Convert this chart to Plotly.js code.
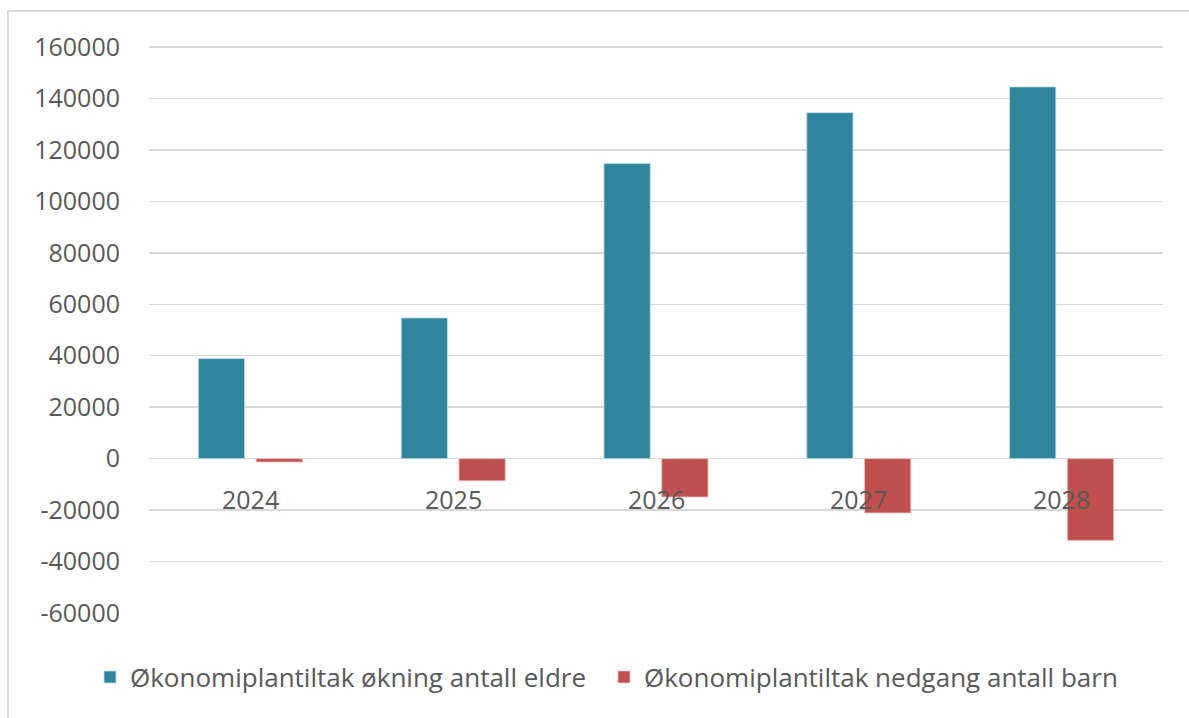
<!DOCTYPE html>
<html>
<head>
<meta charset="utf-8">
<script src="https://cdn.plot.ly/plotly-3.0.1.min.js"></script>
<style>
  html, body { margin: 0; padding: 0; background: #ffffff; overflow: hidden; }
  #frame { position: absolute; left: 7px; top: 10px; width: 1300px; height: 800px;
           border-left: 2px solid #d9d9d9; border-top: 2px solid #d9d9d9; }
  #chart { position: absolute; left: 0; top: 0; width: 1189px; height: 718px; }
</style>
</head>
<body>
<div id="frame"></div>
<div id="chart"></div>
<script>
const years = ["2024", "2025", "2026", "2027", "2028"];
const eldreValues = [38900, 54700, 114700, 134500, 144500];
const barnValues = [-1300, -8600, -14900, -21100, -31800];
const seriesNames = ["Økonomiplantiltak økning antall eldre", "Økonomiplantiltak nedgang antall barn"];
const yTicks = [-60000, -40000, -20000, 0, 20000, 40000, 60000, 80000, 100000, 120000, 140000, 160000];

const textColor = "#595959";
const fontFam = "'Open Sans', 'Noto Sans', sans-serif";

const traces = [
  {
    type: "bar", x: years, y: eldreValues, name: seriesNames[0], legend: "legend",
    marker: { color: "#31849B", line: { color: "rgba(190,225,235,0.8)", width: 1 } },
    hoverinfo: "skip"
  },
  {
    type: "bar", x: years, y: barnValues, name: seriesNames[1], legend: "legend2",
    marker: { color: "#C0504D", line: { color: "rgba(240,190,190,0.8)", width: 1 } },
    hoverinfo: "skip"
  }
];

// category axes take numeric-looking strings as indices, so use the index
const annotations = years.map((yr, i) => ({
  x: i, y: 0, xref: "x", yref: "y", text: yr, showarrow: false,
  yanchor: "top", xanchor: "center", yshift: -21,
  font: { family: fontFam, size: 25, color: textColor }
}));

const legendBase = {
  orientation: "h", xanchor: "left", y: -0.113, yanchor: "middle",
  font: { family: fontFam, size: 26, color: textColor }, itemwidth: 30,
  bgcolor: "rgba(0,0,0,0)"
};

const layout = {
  width: 1189, height: 718,
  paper_bgcolor: "rgba(0,0,0,0)", plot_bgcolor: "rgba(0,0,0,0)",
  margin: { l: 149, r: 26, t: 46, b: 105 },
  barmode: "group", bargap: 0.43, bargroupgap: 0.2,
  font: { family: fontFam, size: 25, color: textColor },
  xaxis: {
    type: "category", range: [-0.5, years.length - 0.5], autorange: false,
    showticklabels: false, showgrid: false, zeroline: false,
    showline: false, ticks: ""
  },
  yaxis: {
    range: [-60000, 160400], autorange: false, tickvals: yTicks, ticktext: yTicks.map(String),
    showgrid: true, gridcolor: "#d9d9d9", gridwidth: 1.5,
    zeroline: true, zerolinecolor: "#d9d9d9", zerolinewidth: 1.5,
    showline: false, ticks: "", ticklabelstandoff: 28,
    tickfont: { family: fontFam, size: 25, color: textColor }
  },
  legend: Object.assign({}, legendBase, { x: -0.0582 }),
  legend2: Object.assign({}, legendBase, { x: 0.4487 }),
  annotations: annotations,
  showlegend: true
};

Plotly.newPlot("chart", traces, layout, { staticPlot: true, displayModeBar: false });
</script>
</body>
</html>
